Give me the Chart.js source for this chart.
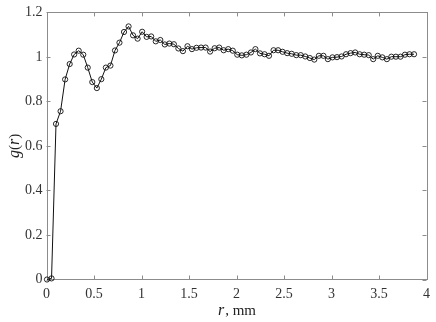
<!DOCTYPE html>
<html>
<head>
<meta charset="utf-8">
<script src="https://cdn.jsdelivr.net/npm/chart.js@4.4.1/dist/chart.umd.min.js"></script>
<style>
  html, body { margin: 0; padding: 0; background: #fff; }
  #wrap { width: 436px; height: 322px; }
</style>
</head>
<body>
<div id="wrap"><canvas id="gr"></canvas></div>
<script>
  // r in mm, g(r)
  const rVals = [
    0.005, 0.053, 0.100, 0.148, 0.196, 0.244, 0.291, 0.339, 0.387, 0.434,
    0.482, 0.530, 0.577, 0.625, 0.673, 0.721, 0.768, 0.816, 0.864, 0.911,
    0.959, 1.007, 1.054, 1.102, 1.150, 1.198, 1.245, 1.293, 1.341, 1.388,
    1.436, 1.484, 1.531, 1.579, 1.627, 1.675, 1.722, 1.770, 1.818, 1.865,
    1.913, 1.961, 2.008, 2.056, 2.104, 2.152, 2.199, 2.247, 2.295, 2.342,
    2.390, 2.438, 2.485, 2.533, 2.581, 2.629, 2.676, 2.724, 2.772, 2.819,
    2.867, 2.915, 2.962, 3.010, 3.058, 3.106, 3.153, 3.201, 3.249, 3.296,
    3.344, 3.392, 3.439, 3.487, 3.535, 3.583, 3.630, 3.678, 3.726, 3.773,
    3.821, 3.869
  ];
  const gVals = [
    0.000, 0.005, 0.699, 0.756, 0.899, 0.968, 1.011, 1.028, 1.010, 0.952,
    0.887, 0.860, 0.900, 0.952, 0.961, 1.029, 1.064, 1.112, 1.137, 1.097,
    1.082, 1.113, 1.090, 1.092, 1.070, 1.076, 1.056, 1.060, 1.057, 1.038,
    1.026, 1.048, 1.035, 1.041, 1.042, 1.042, 1.024, 1.039, 1.042, 1.030,
    1.035, 1.028, 1.010, 1.007, 1.010, 1.020, 1.035, 1.016, 1.012, 1.005,
    1.030, 1.030, 1.023, 1.017, 1.014, 1.008, 1.008, 1.002, 0.995, 0.988,
    1.005, 1.005, 0.990, 0.998, 0.999, 1.002, 1.012, 1.017, 1.020, 1.012,
    1.010, 1.008, 0.990, 1.005, 0.998, 0.990, 1.001, 1.001, 1.001, 1.010,
    1.012, 1.012
  ];
  const xTicks = [0, 0.5, 1, 1.5, 2, 2.5, 3, 3.5, 4];
  const yTicks = [0, 0.2, 0.4, 0.6, 0.8, 1, 1.2];

  const serif = '"Liberation Serif", "DejaVu Serif", serif';
  const axisGray = '#8c8c8c';

  // box round the plot, inward tick marks, and the two axis titles
  const boxPlugin = {
    id: 'box',
    beforeDatasetsDraw(chart) {
      const { ctx, chartArea: a, scales } = chart;
      const len = 4;
      ctx.save();
      ctx.strokeStyle = axisGray;
      ctx.lineWidth = 1;
      ctx.strokeRect(Math.round(a.left) + 0.5, Math.round(a.top) + 0.5,
        Math.round(a.right - a.left), Math.round(a.bottom - a.top));
      ctx.beginPath();
      xTicks.forEach(v => {
        const x = Math.round(scales.x.getPixelForValue(v)) + 0.5;
        ctx.moveTo(x, a.bottom); ctx.lineTo(x, a.bottom - len);
        ctx.moveTo(x, a.top); ctx.lineTo(x, a.top + len);
      });
      yTicks.forEach(v => {
        const y = Math.round(scales.y.getPixelForValue(v)) + 0.5;
        ctx.moveTo(a.left, y); ctx.lineTo(a.left + len, y);
        ctx.moveTo(a.right, y); ctx.lineTo(a.right - len, y);
      });
      ctx.stroke();

      ctx.fillStyle = '#222';
      ctx.textBaseline = 'middle';
      // x title: italic r, upright ", mm"
      const it = 'italic 16px ' + serif, up = '15px ' + serif;
      ctx.font = it; const w1 = ctx.measureText('r').width;
      ctx.font = up; const w2 = ctx.measureText(', mm').width;
      let x0 = (a.left + a.right) / 2 - (w1 + w2) / 2;
      ctx.textAlign = 'left';
      ctx.font = it; ctx.fillText('r', x0, 311);
      ctx.font = up; ctx.fillText(', mm', x0 + w1 + 1, 311);

      // y title: g(r) rotated
      ctx.translate(15, (a.top + a.bottom) / 2);
      ctx.rotate(-Math.PI / 2);
      const parts = [['g', it], ['(', up], ['r', it], [')', up]];
      let tot = 0;
      parts.forEach(p => { ctx.font = p[1]; tot += ctx.measureText(p[0]).width; });
      let px = -tot / 2;
      parts.forEach(p => {
        ctx.font = p[1];
        ctx.fillText(p[0], px, 0);
        px += ctx.measureText(p[0]).width;
      });
      ctx.restore();
    }
  };

  const fmt = v => String(+Number(v).toFixed(2));

  new Chart(document.getElementById('gr'), {
    type: 'line',
    data: {
      datasets: [{
        data: rVals.map((r, i) => ({ x: r, y: gVals[i] })),
        borderColor: '#111',
        borderWidth: 1,
        pointRadius: 2.6,
        pointBorderWidth: 0.9,
        pointBorderColor: '#111',
        pointBackgroundColor: 'rgba(0,0,0,0)',
        tension: 0,
        clip: false
      }]
    },
    options: {
      responsive: true,
      maintainAspectRatio: false,
      animation: false,
      events: [],
      layout: { padding: { top: 9, right: 6, left: 0, bottom: 0 } },
      plugins: { legend: { display: false }, tooltip: { enabled: false } },
      scales: {
        x: {
          type: 'linear',
          min: 0, max: 4,
          afterBuildTicks: s => { s.ticks = xTicks.map(v => ({ value: v })); },
          afterFit: s => { s.height = 42.5; },
          grid: { display: false, drawTicks: false },
          border: { display: false },
          ticks: { color: '#333', padding: 6, maxRotation: 0, font: { family: serif, size: 14 }, callback: fmt }
        },
        y: {
          type: 'linear',
          min: 0, max: 1.2,
          afterBuildTicks: s => { s.ticks = yTicks.map(v => ({ value: v })); },
          afterFit: s => { s.width = 46.5; },
          grid: { display: false, drawTicks: false },
          border: { display: false },
          ticks: { color: '#333', padding: 4, font: { family: serif, size: 14 }, callback: fmt }
        }
      }
    },
    plugins: [boxPlugin]
  });
</script>
</body>
</html>
